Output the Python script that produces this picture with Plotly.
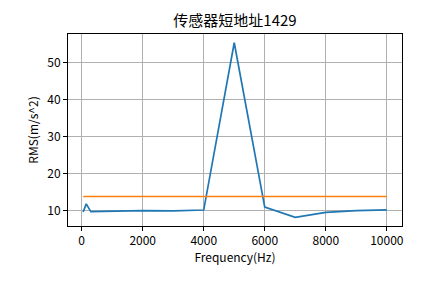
import plotly.graph_objects as go

freq = [50, 150, 300, 1000, 2000, 3000, 4000, 5000, 6000, 7000, 8000, 9000, 10000]
rms = [9.7, 11.9, 9.8, 10.0, 10.1, 10.0, 10.25, 55.3, 11.05, 8.3, 9.6, 10.1, 10.3]
threshold = [13.9] * len(freq)

x_ticks = [0, 2000, 4000, 6000, 8000, 10000]
x_tick_labels = ["0", "2000", "4000", "6000", "8000", "10000"]
y_ticks = [10, 20, 30, 40, 50]
y_tick_labels = ["10", "20", "30", "40", "50"]

font = "Noto Sans CJK SC, sans-serif"

fig = go.Figure()
fig.add_trace(go.Scatter(x=freq, y=rms, mode="lines", line=dict(color="#1f77b4", width=1.7)))
fig.add_trace(go.Scatter(x=freq, y=threshold, mode="lines", line=dict(color="#ff7f0e", width=1.7)))

xmin, xmax = min(freq), max(freq)
ymin, ymax = min(rms + threshold), max(rms + threshold)
xpad = (xmax - xmin) * 0.05
ypad = (ymax - ymin) * 0.05

axis_common = dict(
    showline=True, linecolor="black", linewidth=1, mirror=True,
    ticks="outside", ticklen=4, tickcolor="black", tickwidth=1,
    showgrid=True, gridcolor="#b0b0b0", gridwidth=1, zeroline=False,
    tickfont=dict(family=font, size=12, color="black"),
)

fig.update_layout(
    width=445, height=283,
    margin=dict(l=68, r=43, t=34, b=57),
    paper_bgcolor="white", plot_bgcolor="white",
    showlegend=False,
    title=dict(text="传感器短地址1429", x=0.5, xanchor="center", y=0.925, yanchor="middle",
               xref="paper", font=dict(family=font, size=15, color="black")),
    xaxis=dict(range=[xmin - xpad, xmax + xpad], tickvals=x_ticks, ticktext=x_tick_labels,
               title=dict(text="Frequency(Hz)", font=dict(family=font, size=12, color="black"), standoff=4),
               **axis_common),
    yaxis=dict(range=[ymin - ypad, ymax + ypad], tickvals=y_ticks, ticktext=y_tick_labels,
               title=dict(text="RMS(m/s^2)", font=dict(family=font, size=12, color="black"), standoff=6),
               **axis_common),
)

fig.write_html("out.html")
